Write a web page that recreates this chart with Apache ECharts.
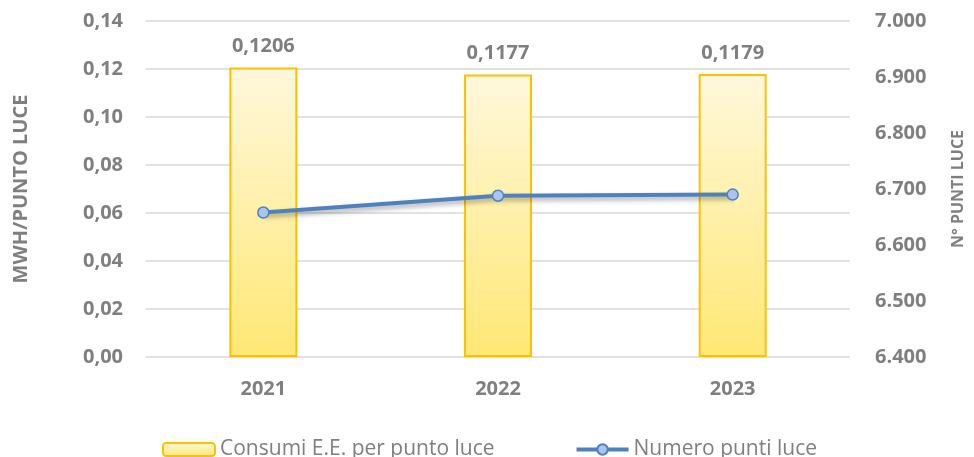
<!DOCTYPE html>
<html>
<head>
<meta charset="utf-8">
<script src="https://cdn.jsdelivr.net/npm/echarts@6/dist/echarts.min.js"></script>
<style>
  html, body { margin: 0; padding: 0; background: #fff; }
  #chart { width: 974px; height: 457px; }
</style>
</head>
<body>
<div id="chart"></div>
<script>
const years = ['2021', '2022', '2023']
const consumi = [0.1206, 0.1177, 0.1179]
const puntiLuce = [6658, 6688, 6690]

const grey = '#7f7f7f'
const font = 'Open Sans'

const chart = echarts.init(document.getElementById('chart'), null, { renderer: 'canvas' })

const option = {
  animation: false,
  textStyle: { fontFamily: font },
  grid: { left: 146, right: 116, top: 21, bottom: 100 },
  legend: {
    left: 157,
    top: 434,
    itemGap: 80,
    itemWidth: 52,
    itemHeight: 13,
    textStyle: { color: grey, fontSize: 21, fontFamily: font },
    data: [
      { name: 'Consumi E.E. per punto luce' },
      { name: 'Numero punti luce', lineStyle: { width: 4 } }
    ]
  },
  xAxis: {
    type: 'category',
    data: years,
    axisLine: { show: false },
    axisTick: { show: false },
    axisLabel: { color: grey, fontSize: 20, fontWeight: 'bold', margin: 22 }
  },
  yAxis: [
    {
      type: 'value',
      min: 0,
      max: 0.14,
      interval: 0.02,
      name: 'MWH/PUNTO LUCE',
      nameLocation: 'middle',
      nameGap: 115,
      nameRotate: 90,
      nameTextStyle: { color: grey, fontSize: 20, fontWeight: 'bold' },
      axisLine: { show: false },
      axisTick: { show: false },
      splitLine: { lineStyle: { color: '#d9d9d9', width: 1.5 } },
      axisLabel: {
        color: grey, fontSize: 20, fontWeight: 'bold', margin: 23,
        formatter: v => v.toFixed(2).replace('.', ',')
      }
    },
    {
      type: 'value',
      min: 6400,
      max: 7000,
      interval: 100,
      name: 'N° PUNTI LUCE',
      nameLocation: 'middle',
      nameGap: 100,
      nameRotate: 90,
      nameTextStyle: { color: grey, fontSize: 16, fontWeight: 'bold' },
      axisLine: { show: false },
      axisTick: { show: false },
      splitLine: { show: false },
      axisLabel: {
        color: grey, fontSize: 20, fontWeight: 'bold', margin: 25,
        formatter: v => v.toLocaleString('de-DE')
      }
    }
  ],
  series: [
    {
      name: 'Consumi E.E. per punto luce',
      type: 'bar',
      yAxisIndex: 0,
      data: consumi,
      barWidth: 68,
      itemStyle: {
        borderColor: '#ffc000',
        borderWidth: 2,
        color: new echarts.graphic.LinearGradient(0, 0, 0, 1, [
          { offset: 0, color: '#fff8dc' },
          { offset: 1, color: '#ffe875' }
        ])
      },
      label: {
        show: true,
        position: 'top',
        distance: 11,
        color: grey,
        fontSize: 20,
        fontWeight: 'bold',
        formatter: p => p.value.toFixed(4).replace('.', ',')
      }
    },
    {
      name: 'Numero punti luce',
      type: 'line',
      yAxisIndex: 1,
      data: puntiLuce,
      symbol: 'circle',
      symbolSize: 11,
      lineStyle: {
        color: '#4f81bd',
        width: 4,
        shadowColor: 'rgba(0,0,0,0.35)',
        shadowBlur: 5,
        shadowOffsetY: 3
      },
      itemStyle: {
        color: '#a9c4ef',
        borderColor: '#4f81bd',
        borderWidth: 1.5
      }
    }
  ]
}

chart.setOption(option)
</script>
</body>
</html>
